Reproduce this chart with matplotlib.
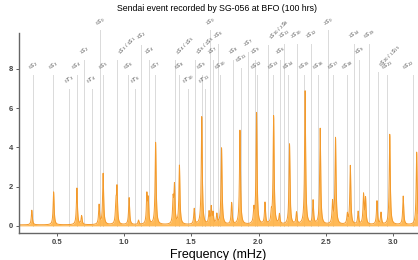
import numpy as np
import matplotlib
matplotlib.use("Agg")
import matplotlib.pyplot as plt

#==============================================================================
# Data
#==============================================================================

# spectral peaks (frequency in mHz, amplitude)
peak_freq = [0.315, 0.477, 0.650, 0.685, 0.815, 0.845, 0.940, 0.948, 1.038,
             1.108, 1.170, 1.180, 1.235, 1.365, 1.375, 1.412, 1.522, 1.578,
             1.632, 1.648, 1.662, 1.690, 1.725, 1.800, 1.862, 1.965, 1.985,
             2.048, 2.095, 2.112, 2.155, 2.230, 2.282, 2.346, 2.405, 2.458,
             2.550, 2.572, 2.660, 2.682, 2.740, 2.780, 2.795, 2.880, 2.910,
             2.975, 3.075, 3.175]
peak_amp = [0.75, 1.68, 1.88, 0.45, 1.0, 2.6, 1.0, 1.8, 1.38,
            0.22, 1.45, 1.2, 4.2, 1.2, 1.9, 3.0, 0.8, 5.5,
            0.6, 0.85, 0.55, 0.5, 3.9, 1.1, 4.8, 0.7, 5.7,
            1.1, 0.5, 5.5, 0.5, 4.1, 0.6, 6.8, 1.2, 4.9,
            1.1, 4.4, 0.5, 3.0, 0.65, 1.5, 1.3, 1.2, 0.6,
            4.6, 1.45, 3.7]
noise_floor = 0.05

# normal mode markers (frequency, label height, label)
mode_freq = [0.322, 0.475, 0.594, 0.649, 0.703, 0.760, 0.822, 0.846, 0.950,
             1.032, 1.080, 1.125, 1.185, 1.230, 1.380, 1.411, 1.478, 1.527,
             1.577, 1.600, 1.639, 1.659, 1.700, 1.713, 1.812, 1.870, 1.925,
             1.973, 1.986, 2.067, 2.109, 2.159, 2.190, 2.220, 2.283, 2.340,
             2.390, 2.444, 2.518, 2.555, 2.660, 2.710, 2.745, 2.820, 2.890,
             2.957, 3.150]
mode_level = [7.84, 7.84, 7.1, 7.84, 8.6, 7.1, 10.1, 7.84, 8.6,
              7.84, 7.1, 9.35, 8.6, 7.84, 8.6, 7.84, 7.1, 8.6,
              7.84, 7.1, 10.1, 8.6, 9.4, 7.84, 8.6, 8.2, 9.0,
              8.6, 7.84, 9.35, 7.84, 8.6, 9.4, 7.84, 9.4, 7.84,
              9.4, 7.84, 10.1, 7.84, 7.84, 9.4, 8.6, 9.4, 8.0,
              7.84, 7.84]
mode_name = ["0S2", "0S3", "0T3", "0S4", "1S2", "0T4", "0S0", "0S5",
             "1S3/3S1", "0S6", "0T6", "3S2", "1S4", "0S7", "2S4/1S5", "0S8",
             "0T10", "1S6/2S5", "0S9", "0T11", "1S0", "1S7", "2S6", "0S10",
             "1S8", "0S11", "2S7", "1S9", "0S12", "1S10/2S8", "0S13", "3S6",
             "1S11", "0S14", "2S10", "0S15", "1S12", "0S16", "2S0", "0S17",
             "0S18", "1S14", "3S9", "0S19", "0S20/1S15", "0S21", "0S22"]

xlim = (0.22, 3.185)
ylim = (-0.36, 9.82)

#==============================================================================
# Helpers
#==============================================================================

def mode_tex(name):
    """turns '0S2' or '1S3/3S1' into mathtext with leading subscripts"""
    parts = []
    for p in name.split("/"):
        n, kind, l = p[0], p[1], p[2:]
        parts.append(r"${}_{%s}%s_{%s}$" % (n, kind, l))
    return " / ".join(parts)


def spectrum(f):
    # each peak drawn as a narrow resonance on a small noise floor
    amp = np.full_like(f, noise_floor)
    hw = 0.0045
    for f0, a in zip(peak_freq, peak_amp):
        amp += a * hw ** 2 / ((f - f0) ** 2 + hw ** 2)
    return amp

#==============================================================================
# Plot
#==============================================================================

plt.rcParams['font.family'] = ['Liberation Sans', 'DejaVu Sans']

fig = plt.figure(figsize=(4.18, 2.60), dpi=100)
ax = fig.add_axes([0.0455, 0.104, 0.9545, 0.769])

# mode markers
for f0, lev, name in zip(mode_freq, mode_level, mode_name):
    ax.plot([f0, f0], [0, lev - 0.15], color="#dadada", lw=0.7,
            zorder=1, clip_on=False)
    combined = "/" in name
    if combined:
        x, ha = f0 - 0.01, "left"
    elif f0 > 3.1:
        # keep the last label inside the picture
        x, ha = f0 + 0.02, "right"
    else:
        x, ha = f0, "center"
    ax.text(x, lev, mode_tex(name),
            fontsize=4, color="#555555", rotation=45 if combined else 30,
            ha=ha, va="bottom", zorder=3)

freq = np.linspace(xlim[0], 3.25, 4000)
amp = spectrum(freq)
ax.fill_between(freq, 0, amp, color="#ffb244", alpha=0.9, lw=0, zorder=2)
ax.plot(freq, amp, color="#f39a2c", lw=0.7, zorder=2)

ax.set_xlim(*xlim)
ax.set_ylim(*ylim)
ax.set_xticks([0.5, 1.0, 1.5, 2.0, 2.5, 3.0])
ax.set_yticks([0, 2, 4, 6, 8])
ax.tick_params(labelsize=5.5, length=2.5, width=0.6, colors="#444444",
               pad=2)
for lab in ax.get_xticklabels() + ax.get_yticklabels():
    lab.set_fontweight("bold")
for side in ["top", "right"]:
    ax.spines[side].set_visible(False)
for side in ["left", "bottom"]:
    ax.spines[side].set_color("#666666")
    ax.spines[side].set_linewidth(1.0)

ax.set_xlabel("Frequency (mHz)", fontsize=9, labelpad=2)
fig.text(0.52, 0.968, "Sendai event recorded by SG-056 at BFO (100 hrs)",
         fontsize=6.3, ha="center", va="center")

fig.savefig("out.png", dpi=100)
